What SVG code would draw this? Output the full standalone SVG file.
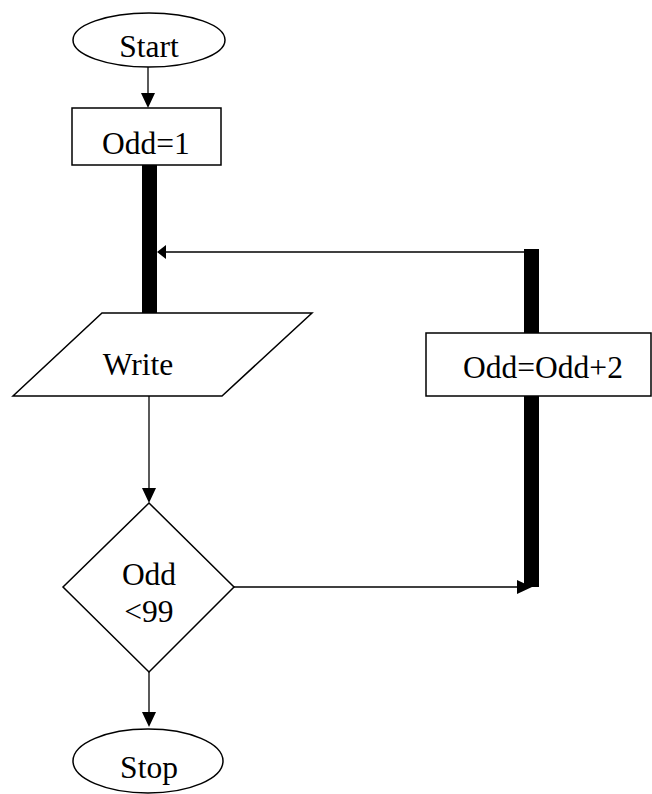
<svg xmlns="http://www.w3.org/2000/svg" width="652" height="794" viewBox="0 0 652 794">
<style>
.s{fill:#fff;stroke:#000;stroke-width:1.5}
.t{font-family:"Liberation Serif","Times New Roman",serif;font-size:31.5px;fill:#000;text-anchor:middle}
.c{stroke:#000;stroke-width:1.3;fill:none}
.bar{fill:#000}
.ah{fill:#000}
</style>
<g id="connectors">
<line class="c" x1="148" y1="67" x2="148" y2="94"/>
<polygon class="ah" points="141,93 155,93 148,108"/>
<rect class="bar" x="142" y="165" width="15" height="148"/>
<line class="c" x1="165" y1="252" x2="524" y2="252"/>
<polygon class="ah" points="157,252 166,245 166,259"/>
<rect class="bar" x="524" y="249" width="15" height="338"/>
<line class="c" x1="149" y1="396" x2="149" y2="489"/>
<polygon class="ah" points="142,488 156,488 149,503"/>
<line class="c" x1="234" y1="587" x2="518" y2="587"/>
<polygon class="ah" points="517,580 517,594 532,587"/>
<line class="c" x1="149" y1="672" x2="149" y2="713"/>
<polygon class="ah" points="142,712 156,712 149,727"/>
</g>
<g id="start">
<ellipse class="s" cx="149" cy="40" rx="76" ry="27"/>
<text class="t" x="149" y="57">Start</text>
</g>
<g id="init">
<rect class="s" x="72" y="108" width="149" height="57"/>
<text class="t" x="146" y="154">Odd=1</text>
</g>
<g id="write">
<polygon class="s" points="102,313 312,313 222,396 13,396"/>
<text class="t" x="138" y="375">Write</text>
</g>
<g id="increment">
<rect class="s" x="426" y="333" width="225" height="63"/>
<text class="t" x="543" y="378">Odd=Odd+2</text>
</g>
<g id="decision">
<polygon class="s" points="149,503 234,587 149,672 63,587"/>
<text class="t" x="149" y="585">Odd</text>
<text class="t" x="149" y="622">&lt;99</text>
</g>
<g id="stop">
<ellipse class="s" cx="148" cy="761" rx="75" ry="32"/>
<text class="t" x="149" y="778">Stop</text>
</g>
</svg>
